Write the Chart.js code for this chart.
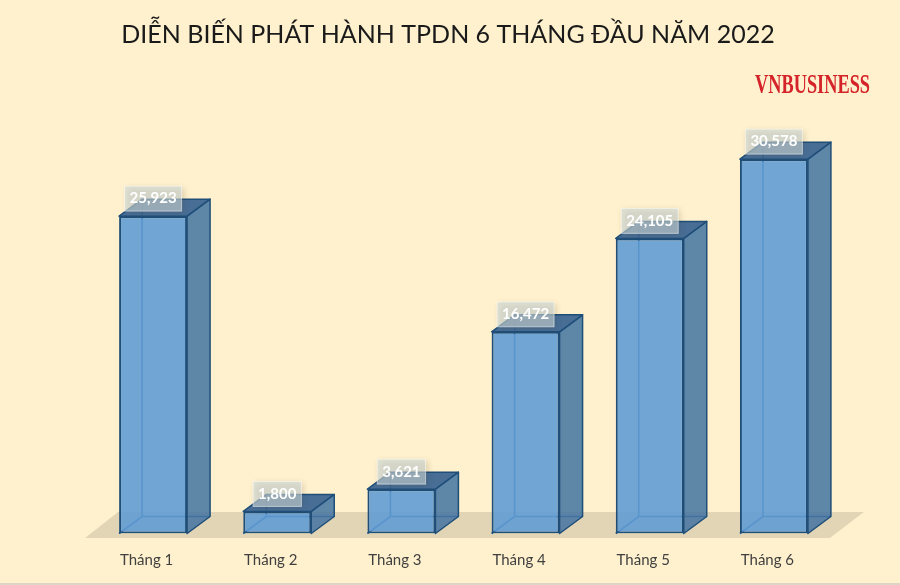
<!DOCTYPE html>
<html>
<head>
<meta charset="utf-8">
<title>TPDN 2022</title>
<script src="https://cdn.jsdelivr.net/npm/chart.js@4/dist/chart.umd.js"></script>
<style>
  html, body { margin: 0; padding: 0; background: #fff1cd; }
  canvas { display: block; }
</style>
</head>
<body>
<canvas id="myChart" width="900" height="585"></canvas>
<script>
const months = ['Tháng 1', 'Tháng 2', 'Tháng 3', 'Tháng 4', 'Tháng 5', 'Tháng 6'];
const issued = [25923, 1800, 3621, 16472, 24105, 30578];
const chartTitle = 'DIỄN BIẾN PHÁT HÀNH TPDN 6 THÁNG ĐẦU NĂM 2022';
const brand = 'VNBUSINESS';

// chieu sau cua khoi 3D
const DX = 23;
const DY = -17;

function poly(ctx, pts, fill, stroke) {
  ctx.beginPath();
  pts.forEach((p, i) => i ? ctx.lineTo(p[0], p[1]) : ctx.moveTo(p[0], p[1]));
  ctx.closePath();
  if (fill) { ctx.fillStyle = fill; ctx.fill(); }
  if (stroke) { ctx.strokeStyle = stroke; ctx.stroke(); }
}

function barBox(bar) {
  const half = bar.width / 2;
  return { l: bar.x - half, r: bar.x + half, t: bar.y, b: bar.base };
}

const box3d = {
  id: 'box3d',
  beforeDatasetsDraw(chart) {
    const ctx = chart.ctx;
    const bars = chart.getDatasetMeta(0).data;
    const y0 = chart.scales.y.getPixelForValue(0);
    const first = barBox(bars[0]);
    const last = barBox(bars[bars.length - 1]);
    ctx.save();
    // san
    poly(ctx, [
      [first.l - 34, y0 + 4.5],
      [last.r + 22, y0 + 4.5],
      [last.r + 56, y0 - 21.5],
      [first.l - 1, y0 - 21.5]
    ], '#e2d5b5');
    // canh phia sau
    ctx.lineWidth = 1.6;
    bars.forEach(bar => {
      const b = barBox(bar);
      ctx.strokeStyle = '#124f8f';
      ctx.beginPath();
      ctx.moveTo(b.l, b.b);
      ctx.lineTo(b.l + DX, b.b + DY);
      ctx.lineTo(b.l + DX, b.t + DY);
      ctx.moveTo(b.l + DX, b.b + DY);
      ctx.lineTo(b.r + DX, b.b + DY);
      ctx.stroke();
    });
    ctx.restore();
  },
  afterDatasetsDraw(chart) {
    const ctx = chart.ctx;
    const bars = chart.getDatasetMeta(0).data;
    ctx.save();
    ctx.lineWidth = 1.5;
    ctx.lineJoin = 'round';
    bars.forEach(bar => {
      const b = barBox(bar);
      poly(ctx, [[b.r, b.t], [b.r + DX, b.t + DY], [b.r + DX, b.b + DY], [b.r, b.b]], 'rgba(72,118,162,0.88)', '#1f4e79');
      poly(ctx, [[b.l, b.t], [b.l + DX, b.t + DY], [b.r + DX, b.t + DY], [b.r, b.t]], 'rgba(62,102,146,0.95)', '#1f4e79');
    });
    ctx.restore();
  },
  afterDraw(chart) {
    const ctx = chart.ctx;
    const bars = chart.getDatasetMeta(0).data;
    ctx.save();
    // nhan gia tri
    ctx.textAlign = 'center';
    ctx.textBaseline = 'middle';
    ctx.font = 'bold 15px Lato';
    bars.forEach((bar, i) => {
      const text = issued[i].toLocaleString('en-US');
      const w = ctx.measureText(text).width + 10;
      const cy = bar.y - 17.5;
      ctx.save();
      ctx.shadowColor = 'rgba(60,50,30,0.3)';
      ctx.shadowBlur = 6;
      ctx.shadowOffsetX = 2;
      ctx.shadowOffsetY = 2;
      ctx.fillStyle = 'rgba(205,217,217,0.6)';
      ctx.fillRect(bar.x - w / 2, cy - 12.5, w, 25);
      ctx.restore();
      ctx.strokeStyle = 'rgba(255,255,255,0.5)';
      ctx.lineWidth = 1;
      ctx.strokeRect(bar.x - w / 2, cy - 12.5, w, 25);
      ctx.fillStyle = '#ffffff';
      ctx.fillText(text, bar.x, cy);
    });
    // logo
    ctx.textAlign = 'left';
    ctx.textBaseline = 'alphabetic';
    ctx.fillStyle = '#d5232a';
    ctx.font = 'bold 27px "Liberation Serif"';
    ctx.fillText(brand, 755, 93, 115);
    // vien duoi
    ctx.fillStyle = '#dcd6c4';
    ctx.fillRect(0, 583, 900, 2);
    ctx.restore();
  }
};

new Chart(document.getElementById('myChart'), {
  type: 'bar',
  data: {
    labels: months,
    datasets: [{
      data: issued,
      backgroundColor: 'rgba(98,156,212,0.9)',
      borderColor: '#1f4e79',
      borderWidth: 2,
      borderSkipped: false,
      barPercentage: 0.5475,
      categoryPercentage: 1
    }]
  },
  options: {
    responsive: false,
    animation: false,
    layout: { padding: { right: 4 } },
    plugins: {
      legend: { display: false },
      tooltip: { enabled: false },
      title: {
        display: true,
        text: chartTitle,
        color: '#1a1a1a',
        font: { family: 'Lato', size: 25, weight: 'normal', lineHeight: 1.2 },
        padding: { top: 20, bottom: 55 }
      }
    },
    scales: {
      x: {
        grid: { display: false },
        border: { display: false },
        ticks: { color: '#404040', font: { family: 'Lato', size: 15 }, labelOffset: -6.5, padding: 10, maxRotation: 0 },
        afterFit: s => { s.height = 51.5; }
      },
      y: {
        min: 0,
        max: 35000,
        grid: { display: false },
        border: { display: false },
        ticks: { display: false },
        afterFit: s => { s.width = 91; }
      },
      yRight: {
        position: 'right',
        grid: { display: false },
        border: { display: false },
        ticks: { display: false },
        afterFit: s => { s.width = 60; }
      }
    }
  },
  plugins: [box3d]
});
</script>
</body>
</html>
